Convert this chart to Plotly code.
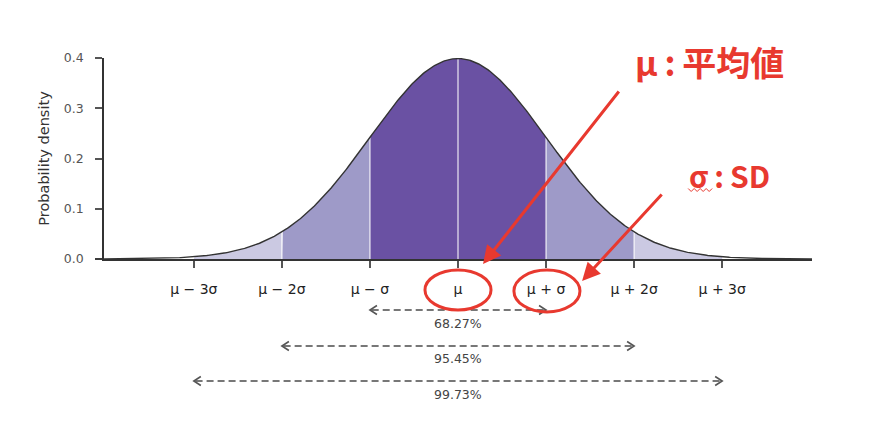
import numpy as np
import plotly.graph_objects as go

# ---- data ----
mu = 0.0
sigma = 1.0
x_range = [-4.02, 4.02]
tick_k = [-3, -2, -1, 0, 1, 2, 3]
tick_text = ["μ − 3σ", "μ − 2σ", "μ − σ", "μ", "μ + σ", "μ + 2σ", "μ + 3σ"]
y_ticks = [0.0, 0.1, 0.2, 0.3, 0.4]
y_ticktext = ["0.0", "0.1", "0.2", "0.3", "0.4"]
band_k = [1, 2, 3]
band_colors = ["#6a51a3", "#9e9ac8", "#cbc9e2"]
band_pct = ["68.27%", "95.45%", "99.73%"]
divider_k = [-2, -1, 0, 1, 2]
circled_k = [0, 1]
label_mu = "μ\u2009:\u2009平均値"
label_sd = "σ\u2009:\u2009SD"

RED = "#e8392f"
GREY = "#777777"
FONT = "DejaVu Sans"


def pdf(x):
    return np.exp(-0.5 * ((x - mu) / sigma) ** 2) / (sigma * np.sqrt(2 * np.pi))


fig = go.Figure()

# shaded bands
for k, col in reversed(list(zip(band_k, band_colors))):
    inner = k - 1
    for sgn in (-1, 1):
        if inner == 0:
            if sgn == 1:
                continue
            a, b = -k, k
        else:
            a, b = sorted([sgn * inner, sgn * k])
        xs = np.linspace(mu + a * sigma, mu + b * sigma, 120)
        ys = pdf(xs)
        fig.add_trace(go.Scatter(
            x=np.concatenate([[xs[0]], xs, [xs[-1]]]),
            y=np.concatenate([[0], ys, [0]]),
            fill="toself", fillcolor=col, line=dict(width=0),
            mode="lines", hoverinfo="skip", showlegend=False))

# white dividers
for k in divider_k:
    xv = mu + k * sigma
    fig.add_trace(go.Scatter(x=[xv, xv], y=[0, pdf(xv)], mode="lines",
                             line=dict(color="rgba(255,255,255,0.65)", width=1.6),
                             hoverinfo="skip", showlegend=False))

# curve
xc = np.linspace(x_range[0], x_range[1], 600)
fig.add_trace(go.Scatter(x=xc, y=pdf(xc), mode="lines",
                         line=dict(color="#333333", width=1.4),
                         hoverinfo="skip", showlegend=False))

# geometry (page has 8px body offset)
top_m, bot_m, left_m, right_m = 50, 171, 96, 79
plot_top_screen = 58
plot_bot_screen = 259
plot_h = plot_bot_screen - plot_top_screen
plot_w = 883 - left_m - right_m
mu_screen = 458
px_per_sigma = 88.0


def py(pix):
    return (plot_bot_screen - pix) / plot_h


def pxd(pix):
    return (pix - mu_screen) / px_per_sigma


shapes = []
annotations = []

# small left extension of x axis line
shapes.append(dict(type="line", xref="paper", yref="paper", x0=-9 / plot_w, x1=0, y0=0, y1=0,
                   line=dict(color="#333333", width=1.5)))

# dashed range arrows with percentages
arrow_rows = [310, 346, 381]
label_rows = [323, 358, 394]
dx = 7 / px_per_sigma
dy = 4.5 / plot_h
for k, pct, ar, lr in zip(band_k, band_pct, arrow_rows, label_rows):
    x0, x1 = mu - k * sigma, mu + k * sigma
    yy = py(ar)
    shapes.append(dict(type="line", xref="x", yref="paper", x0=x0 + 0.02, x1=x1 - 0.02,
                       y0=yy, y1=yy, line=dict(color=GREY, width=2, dash="7px,4px")))
    shapes.append(dict(type="path", xref="x", yref="paper",
                       path=f"M {x0+dx},{yy+dy} L {x0},{yy} L {x0+dx},{yy-dy}",
                       line=dict(color="#555555", width=1.6)))
    shapes.append(dict(type="path", xref="x", yref="paper",
                       path=f"M {x1-dx},{yy+dy} L {x1},{yy} L {x1-dx},{yy-dy}",
                       line=dict(color="#555555", width=1.6)))
    annotations.append(dict(x=mu, y=py(lr), xref="x", yref="paper", text=pct,
                            showarrow=False, font=dict(size=12.5, color="#444444", family=FONT),
                            xanchor="center", yanchor="middle"))

# red ellipses around μ and μ+σ
for k in circled_k:
    cx = mu + k * sigma + (0.01 if k else 0)
    hw = 33 / px_per_sigma
    shapes.append(dict(type="circle", xref="x", yref="paper",
                       x0=cx - hw, x1=cx + hw,
                       y0=py(270), y1=py(310 if k == 0 else 312),
                       line=dict(color=RED, width=3)))

# wavy underline under σ
wx = np.linspace(688, 712, 9)
wy = [190 + (1.5 if i % 2 else -1.5) for i in range(len(wx))]
wpath = "M " + " L ".join(f"{pxd(a)},{py(b)}" for a, b in zip(wx, wy))
shapes.append(dict(type="path", xref="x", yref="paper", path=wpath,
                   line=dict(color=RED, width=1)))

# red arrows
annotations.append(dict(x=pxd(483), y=py(264), xref="x", yref="paper",
                        ax=137, ay=-174, showarrow=True, arrowhead=2, arrowsize=1.2,
                        arrowwidth=3, arrowcolor=RED, text=""))
annotations.append(dict(x=pxd(582), y=py(281), xref="x", yref="paper",
                        ax=81, ay=-88, showarrow=True, arrowhead=2, arrowsize=1.2,
                        arrowwidth=3, arrowcolor=RED, text=""))

# red labels
annotations.append(dict(x=pxd(633), y=py(61), xref="x", yref="paper",
                        text=label_mu, showarrow=False, xanchor="left", yanchor="middle",
                        font=dict(size=34, color=RED, family="Noto Sans CJK JP", weight="bold")))
annotations.append(dict(x=pxd(687), y=py(175), xref="x", yref="paper",
                        text=label_sd, showarrow=False, xanchor="left", yanchor="middle",
                        font=dict(size=30, color=RED, family="Noto Sans CJK JP", weight="bold")))

fig.update_layout(
    width=883, height=422,
    margin=dict(l=left_m, r=right_m, t=top_m, b=bot_m),
    paper_bgcolor="white", plot_bgcolor="white",
    shapes=shapes, annotations=annotations,
    font=dict(family=FONT, color="#333333"),
    xaxis=dict(range=x_range, tickvals=[mu + k * sigma for k in tick_k], ticktext=tick_text,
               showgrid=False, zeroline=False, showline=True, linecolor="#333333", linewidth=1.5,
               ticks="outside", ticklen=7, tickcolor="#555555", tickwidth=1.5,
               tickfont=dict(size=14, color="#222222", family=FONT), ticklabelstandoff=9),
    yaxis=dict(range=[0, 0.4], tickvals=y_ticks, ticktext=y_ticktext,
               showgrid=False, zeroline=False, showline=True, linecolor="#333333", linewidth=1.5,
               ticks="outside", ticklen=7, tickcolor="#555555", tickwidth=1.5,
               tickfont=dict(size=12.5, color="#555555", family=FONT), ticklabelstandoff=9,
               title=dict(text="Probability density", font=dict(size=14.5, color="#333333", family=FONT),
                          standoff=11)),
)

fig.write_html("out.html")
